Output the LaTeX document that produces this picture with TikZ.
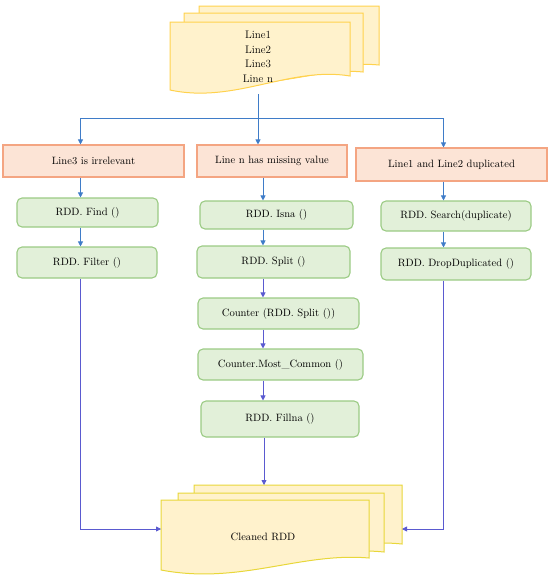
\documentclass[tikz,border=0pt]{standalone}
\usetikzlibrary{arrows.meta}
\definecolor{orfill}{HTML}{FCE4D6}
\definecolor{ordraw}{HTML}{F4A582}
\definecolor{grfill}{HTML}{E2F0D9}
\definecolor{grdraw}{HTML}{9BCB84}
\definecolor{docfill}{HTML}{FFF2CC}
\definecolor{docdraw}{HTML}{FFD24D}
\definecolor{docdrawb}{HTML}{E8D73A}
\definecolor{bluea}{HTML}{3F7CC8}
\definecolor{blueb}{HTML}{5A5AD0}
\tikzset{
  txt/.style={font=\fontsize{10.6}{12}\selectfont, text=black, inner sep=0pt},
  obox/.style={txt, draw=ordraw, fill=orfill, line width=1.1pt},
  gbox/.style={txt, draw=grdraw, fill=grfill, line width=1.1pt, rounded corners=5pt},
  sheet/.style={fill=docfill, draw=docdraw, line width=1pt},
  sheetb/.style={fill=docfill, draw=docdrawb, line width=1pt},
  arra/.style={draw=bluea, line width=0.8pt, -{Triangle[length=5pt,width=5pt]}},
  arrb/.style={draw=blueb, line width=0.8pt, -{Triangle[length=5pt,width=5pt]}},
  plaina/.style={draw=bluea, line width=0.8pt},
  plainb/.style={draw=blueb, line width=0.8pt},
}
\begin{document}
\begin{tikzpicture}[x=1pt,y=-1pt]
\useasboundingbox (0,0) rectangle (550,581);
% top multi-document
\path[sheet] (199,6) -- (379,6) -- (379,65) .. controls (330,60) and (290,85) .. (199,75) -- cycle;
\path[sheet] (184,13) -- (363,13) -- (363,72) .. controls (315,67) and (275,92) .. (184,82) -- cycle;
\path[sheet] (170,22) -- (350,22) -- (350,76) .. controls (290,66) and (235,104) .. (170,90) -- cycle;
\node[txt, align=center, font=\fontsize{11}{14.5}\selectfont] (topdoc) at (258,57) {Line1\\Line2\\Line3\\Line n};
\coordinate (topout) at (258,94);
\coordinate (split) at (258,118);
% column x positions
\coordinate (c1) at (80.5,0);
\coordinate (cm) at (258,0);
\coordinate (c2) at (263,0);
\coordinate (c3) at (443.5,0);
% orange boxes
\node[obox, minimum width=181pt, minimum height=32pt] (o1) at (93.5,161) {Line3 is irrelevant};
\node[obox, minimum width=150pt, minimum height=32pt] (o2) at (272,161) {Line n has missing value};
\node[obox, minimum width=191pt, minimum height=33pt] (o3) at (451.5,164.5) {Line1 and Line2 duplicated};
% green boxes
\node[gbox, minimum width=141pt, minimum height=29pt] (f1) at (87.5,212.5) {RDD. Find ()};
\node[gbox, minimum width=140pt, minimum height=31pt] (f2) at (87,262.5) {RDD. Filter ()};
\node[gbox, minimum width=153pt, minimum height=28pt] (m1) at (276.5,215) {RDD. Isna ()};
\node[gbox, minimum width=153pt, minimum height=32pt] (m2) at (273.5,262) {RDD. Split ()};
\node[gbox, minimum width=161pt, minimum height=31pt] (m3) at (278.5,313.5) {Counter (RDD. Split ())};
\node[gbox, minimum width=165pt, minimum height=31pt] (m4) at (280.5,364.5) {Counter.Most\_Common ()};
\node[gbox, minimum width=158pt, minimum height=36pt] (m5) at (280,419) {RDD. Fillna ()};
\node[gbox, minimum width=150pt, minimum height=30pt] (r1) at (456,216) {RDD. Search(duplicate)};
\node[gbox, minimum width=150pt, minimum height=32pt] (r2) at (456,264) {RDD. DropDuplicated ()};
% bottom multi-document
\path[sheetb] (194,485) -- (402,485) -- (402,544) .. controls (345,538) and (300,562) .. (194,552) -- cycle;
\path[sheetb] (178,493) -- (384,493) -- (384,552) .. controls (327,546) and (282,570) .. (178,560) -- cycle;
\path[sheetb] (161,500) -- (369,500) -- (369,558) .. controls (300,552) and (240,585) .. (161,570) -- cycle;
\node[txt] (outdoc) at (263,537) {Cleaned RDD};
\coordinate (inback) at (264,485);
\coordinate (infront) at (161,529);
\coordinate (inright) at (402,529);
% connectors (top)
\draw[plaina] (topout) -- (split);
\draw[arra] (split) -| (o1.north -| c1);
\draw[arra] (split) -- (o2.north -| cm);
\draw[arra] (split) -| (o3.north -| c3);
\draw[arra] (o1.south -| c1) -- (f1.north -| c1);
\draw[arra] (f1.south -| c1) -- (f2.north -| c1);
\draw[arra] (o2.south -| c2) -- (m1.north -| c2);
\draw[arra] (m1.south -| c2) -- (m2.north -| c2);
\draw[arra] (o3.south -| c3) -- (r1.north -| c3);
\draw[arra] (r1.south -| c3) -- (r2.north -| c3);
% connectors (lower)
\draw[arrb] (m2.south -| c2) -- (m3.north -| c2);
\draw[arrb] (m3.south -| c2) -- (m4.north -| c2);
\draw[arrb] (m4.south -| c2) -- (m5.north -| c2);
\draw[arrb] (m5.south -| inback) -- (inback);
\draw[arrb] (f2.south -| c1) |- (infront);
\draw[arrb] (r2.south -| c3) |- (inright);
\end{tikzpicture}
\end{document}
